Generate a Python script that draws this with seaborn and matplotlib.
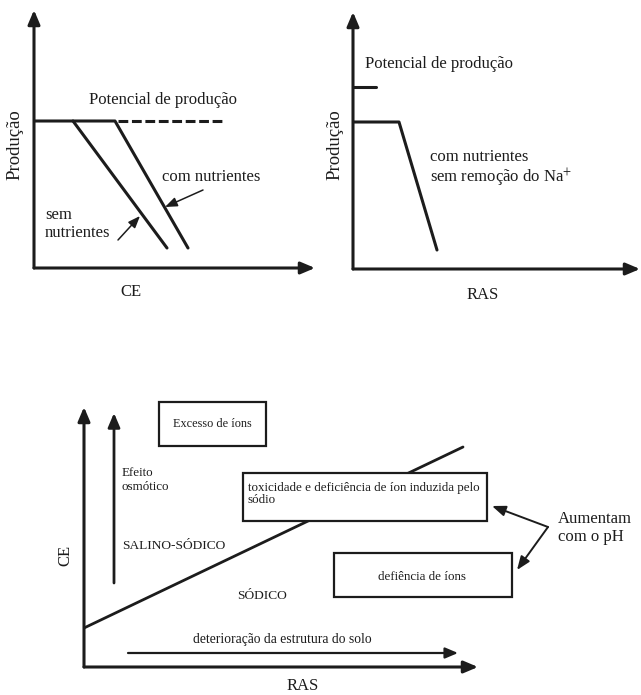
import matplotlib
matplotlib.use("Agg")
import matplotlib.pyplot as plt
import seaborn as sns
import pandas as pd
from matplotlib.patches import Rectangle

# ---------------- data (panel units: 1 unit ~ 1 px from the axis origin) -------------
# Panel 1: Produção vs CE
p1_com_x = [0, 81, 154]
p1_com_y = [147, 147, 20]
p1_sem_x = [39, 133]
p1_sem_y = [147, 20]
p1_pot_x = [84, 191]
p1_pot_y = [147, 147]

# Panel 2: Produção vs RAS
p2_pot_x = [0, 23]
p2_pot_y = [182, 182]
p2_com_x = [0, 46, 84]
p2_com_y = [147, 147, 19]

# Panel 3: CE vs RAS
p3_lim_x = [0, 379]
p3_lim_y = [39, 220]

labels_p1 = ["Potencial de produção", "com nutrientes", "sem\nnutrientes"]
labels_p2 = ["Potencial de produção", "com nutrientes", "sem remoção do Na$^{+}$"]
boxes_p3 = ["Excesso de íons",
            "toxicidade e deficiência de íon induzida pelo\nsódio",
            "defiência de íons"]

# ---------------- style ----------------
sns.set_theme(style="white")
plt.rcParams["font.family"] = ["Liberation Serif", "DejaVu Serif"]
plt.rcParams["mathtext.fontset"] = "stix"
INK = "#1c1c1c"

W, H = 641, 695
fig = plt.figure(figsize=(W / 100, H / 100), dpi=100)
fig.patch.set_facecolor("white")


def panel(ox, oy, w, h):
    ax = fig.add_axes([ox / W, (H - oy) / H, w / W, h / H])
    ax.set_xlim(0, w)
    ax.set_ylim(0, h)
    ax.axis("off")
    return ax


def arrow(ax, start, tip, lw=2.2, hl=0.85, hw=0.36, ms=10):
    ax.annotate("", xy=tip, xytext=start,
                arrowprops=dict(arrowstyle=f"-|>,head_length={hl},head_width={hw}",
                                lw=lw, color=INK, shrinkA=0, shrinkB=0,
                                mutation_scale=ms), annotation_clip=False)


def line(ax, x, y, lw=2.2, ls="-"):
    df = pd.DataFrame({"x": x, "y": y})
    sns.lineplot(data=df, x="x", y="y", ax=ax, sort=False, estimator=None,
                 color=INK, lw=lw, linestyle=ls)
    ax.set_xlabel("")
    ax.set_ylabel("")


# ---------------- Panel 1 ----------------
ax1 = panel(34, 268, 300, 268)
arrow(ax1, (0, 0), (0, 258))
arrow(ax1, (0, 0), (281, 0))
line(ax1, p1_com_x, p1_com_y)
line(ax1, p1_sem_x, p1_sem_y)
line(ax1, p1_pot_x, p1_pot_y, ls=(0, (3.2, 1.2)))
ax1.text(129, 168, labels_p1[0], fontsize=12, ha="center", va="center", color=INK)
ax1.text(128, 91, labels_p1[1], fontsize=12, ha="left", va="center", color=INK)
ax1.text(11, 44, labels_p1[2], fontsize=12, ha="left", va="center", color=INK,
         linespacing=1.2)
arrow(ax1, (169, 78), (131, 61), lw=1.1, hl=0.9, hw=0.35, ms=8)
arrow(ax1, (84, 28), (106, 52), lw=1.1, hl=0.9, hw=0.35, ms=8)
ax1.text(-19, 123, "Produção", fontsize=13.5, rotation=90, ha="center", va="center", color=INK)
ax1.text(97, -24, "CE", fontsize=12, ha="center", va="center", color=INK)

# ---------------- Panel 2 ----------------
ax2 = panel(353, 269, 288, 269)
arrow(ax2, (0, 0), (0, 257))
arrow(ax2, (0, 0), (287, 0))
line(ax2, p2_pot_x, p2_pot_y)
line(ax2, p2_com_x, p2_com_y)
ax2.text(12, 205, labels_p2[0], fontsize=12, ha="left", va="center", color=INK)
ax2.text(77, 112, labels_p2[1], fontsize=12, ha="left", va="center", color=INK)
ax2.text(77, 91, labels_p2[2], fontsize=12, ha="left", va="center", color=INK)
ax2.text(-18, 124, "Produção", fontsize=13.5, rotation=90, ha="center", va="center", color=INK)
ax2.text(130, -26, "RAS", fontsize=12, ha="center", va="center", color=INK)

# ---------------- Panel 3 ----------------
ax3 = panel(84, 667, 557, 290)
arrow(ax3, (0, 0), (0, 260))
arrow(ax3, (0, 0), (394, 0))
arrow(ax3, (30, 84), (30, 254), lw=2.0)
arrow(ax3, (44, 14), (374, 14), lw=1.6, ms=9)
line(ax3, p3_lim_x, p3_lim_y, lw=2.0)


def box(ax, x0, y0, x1, y1):
    ax.add_patch(Rectangle((x0, y0), x1 - x0, y1 - y0, fill=True, fc="white",
                           ec=INK, lw=1.6, zorder=3))


box(ax3, 75, 221, 182, 265)
box(ax3, 159, 146, 403, 194)
box(ax3, 250, 70, 428, 114)
ax3.text(128.5, 243, boxes_p3[0], fontsize=8.8, ha="center", va="center", color=INK, zorder=4)
ax3.text(164, 173, boxes_p3[1], fontsize=9.4, ha="left", va="center", color=INK,
         linespacing=1.05, zorder=4)
ax3.text(338, 90, boxes_p3[2], fontsize=9.4, ha="center", va="center", color=INK, zorder=4)

ax3.text(38, 187, "Efeito\nosmótico", fontsize=9.4, ha="left", va="center", color=INK,
         linespacing=1.2)
ax3.text(38, 121, "SALINO-SÓDICO", fontsize=9.6, ha="left", va="center", color=INK)
ax3.text(178, 71, "SÓDICO", fontsize=9.6, ha="center", va="center", color=INK)
ax3.text(198, 27, "deterioração da estrutura do solo", fontsize=9.8, ha="center",
         va="center", color=INK)
ax3.text(474, 139, "Aumentam\ncom o pH", fontsize=12, ha="left", va="center", color=INK,
         linespacing=1.15)
# pH arrows
for tip in [(408, 161), (433, 97)]:
    ax3.annotate("", xy=tip, xytext=(464, 140),
                 arrowprops=dict(arrowstyle="-|>,head_length=0.9,head_width=0.35", lw=1.4,
                                 color=INK, shrinkA=0, shrinkB=0, mutation_scale=9))
ax3.text(-19, 112, "CE", fontsize=12, rotation=90, ha="center", va="center", color=INK)
ax3.text(219, -19, "RAS", fontsize=12, ha="center", va="center", color=INK)

fig.savefig("out.png", dpi=100, facecolor="white")
